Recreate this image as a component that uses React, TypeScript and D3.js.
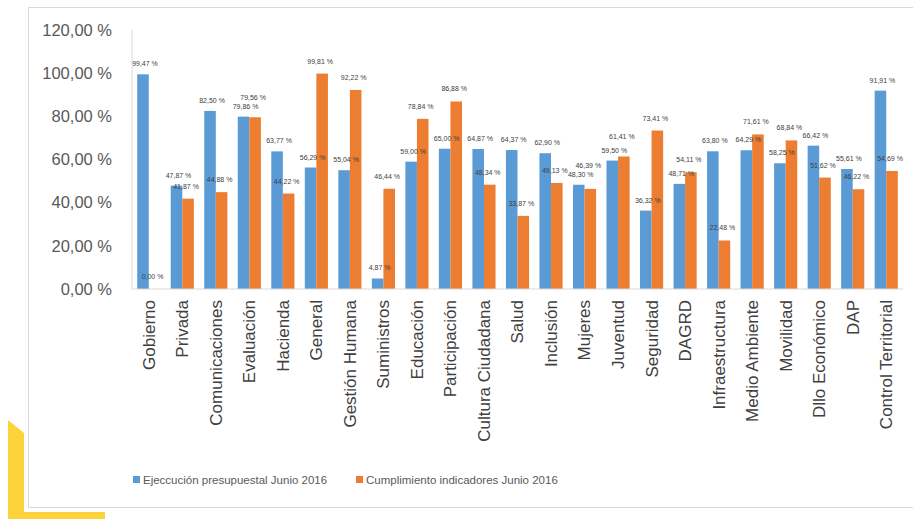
import * as d3 from 'd3';

const categories = [
  'Gobierno', 'Privada', 'Comunicaciones', 'Evaluación', 'Hacienda', 'General',
  'Gestión Humana', 'Suministros', 'Educación', 'Participación', 'Cultura Ciudadana',
  'Salud', 'Inclusión', 'Mujeres', 'Juventud', 'Seguridad', 'DAGRD', 'Infraestructura',
  'Medio Ambiente', 'Movilidad', 'Dllo Económico', 'DAP', 'Control Territorial',
];

// Ejeccución presupuestal Junio 2016
const ejecucion = [
  99.47, 47.87, 82.5, 79.86, 63.77, 56.29, 55.04, 4.87, 59.0, 65.0, 64.87,
  64.37, 62.9, 48.3, 59.5, 36.32, 48.71, 63.8, 64.29, 58.25, 66.42, 55.61, 91.91,
];

// Cumplimiento indicadores Junio 2016
const cumplimiento = [
  0, 41.87, 44.88, 79.56, 44.22, 99.81, 92.22, 46.44, 78.84, 86.88, 48.34,
  33.87, 49.13, 46.39, 61.41, 73.41, 54.11, 22.48, 71.61, 68.84, 51.62, 46.22, 54.69,
];

const seriesNames = ['Ejeccución presupuestal Junio 2016', 'Cumplimiento indicadores Junio 2016'];
const seriesColors = ['#5B9BD5', '#ED7D31'];
const yTicks = [0, 20, 40, 60, 80, 100, 120];

const W = 913;
const H = 519;
const plot = { left: 132, right: 903, top: 30, bottom: 289 };

const fmt = (v: number) => v.toFixed(2).replace('.', ',') + ' %';

export default function App() {
  const x = d3.scaleBand<string>().domain(categories).range([plot.left, plot.right]).paddingInner(0.31).paddingOuter(0.155);
  const inner = d3.scaleBand<number>().domain([0, 1]).range([0, x.bandwidth()]);
  const y = d3.scaleLinear().domain([0, 120]).range([plot.bottom, plot.top]);
  const series = [ejecucion, cumplimiento];
  const font = "'Liberation Sans', Arial, sans-serif";

  // where both bars are nearly level, lift the orange label so the two don't collide
  const labelY = (si: number, i: number) => {
    const v = series[si][i];
    if (si === 1 && Math.abs(ejecucion[i] - cumplimiento[i]) < 4) {
      return y(Math.max(ejecucion[i], cumplimiento[i])) - 17;
    }
    return y(v) - (si === 0 ? 8 : 10);
  };

  return (
    <svg width={W} height={H} style={{ position: 'absolute', left: 0, top: 0, background: '#fff' }} fontFamily={font}>
      <polygon points="8,420 24,433 24,512 105,512 105,519 8,519" fill="#FDD33B" />
      <rect x={28.5} y={7.5} width={900} height={500} fill="#fff" stroke="#d9d9d9" />

      <line x1={plot.left} x2={plot.left} y1={plot.top} y2={plot.bottom} stroke="#d9d9d9" />
      {yTicks.map(t => (
        <text key={t} x={112} y={y(t)} dy="0.35em" textAnchor="end" fontSize={16.5} fill="#595959">
          {fmt(t)}
        </text>
      ))}

      {series.map((vals, si) => (
        <g key={si}>
          {vals.map((v, i) => (
            <rect
              key={i}
              x={(x(categories[i]) ?? 0) + (inner(si) ?? 0)}
              y={y(v)}
              width={inner.bandwidth()}
              height={plot.bottom - y(v)}
              fill={seriesColors[si]}
            />
          ))}
        </g>
      ))}
      <line x1={plot.left} x2={plot.right} y1={plot.bottom} y2={plot.bottom} stroke="#d9d9d9" />

      {series.map((vals, si) => (
        <g key={'l' + si}>
          {vals.map((v, i) => (
            <text
              key={i}
              x={(x(categories[i]) ?? 0) + (inner(si) ?? 0) + inner.bandwidth() / 2 + (si === 0 ? 2 : -2)}
              y={labelY(si, i)}
              textAnchor="middle"
              fontSize={7}
              fill="#404040"
            >
              {fmt(v)}
            </text>
          ))}
        </g>
      ))}

      {categories.map(c => (
        <text
          key={c}
          transform={`translate(${(x(c) ?? 0) + x.bandwidth() / 2},${plot.bottom + 11}) rotate(-90)`}
          dy="0.35em"
          textAnchor="end"
          fontSize={17}
          fill="#404040"
        >
          {c}
        </text>
      ))}

      {seriesNames.map((name, i) => {
        const lx = i === 0 ? 133 : 356;
        return (
          <g key={name} transform={`translate(${lx},480)`}>
            <rect x={0} y={-4} width={7} height={7} fill={seriesColors[i]} />
            <text x={10} y={0} dy="0.35em" fontSize={11.5} fill="#595959">{name}</text>
          </g>
        );
      })}
    </svg>
  );
}
